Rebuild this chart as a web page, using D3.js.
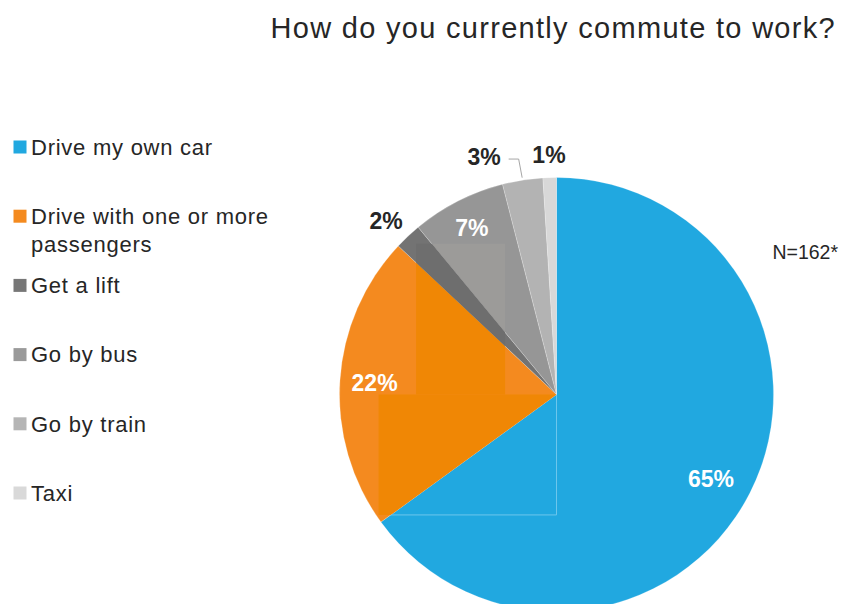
<!DOCTYPE html>
<html>
<head>
<meta charset="utf-8">
<script src="https://cdn.jsdelivr.net/npm/d3@7"></script>
<style>
  html, body { margin: 0; padding: 0; background: #fff; }
  svg { display: block; font-family: "Liberation Sans", Arial, Helvetica, sans-serif; }
</style>
</head>
<body>
<svg id="chart" width="846" height="604"></svg>
<script>
// Survey answers: share of respondents (%) per commute mode
const categories = [
  "Drive my own car",
  "Drive with one or more passengers",
  "Get a lift",
  "Go by bus",
  "Go by train",
  "Taxi"
];
const shares = [65, 22, 2, 7, 3, 1];
const sliceColors  = ["#21A8E0", "#F48A1F", "#737373", "#969696", "#B3B3B3", "#D8D8D8"];
const legendColors = ["#21A8E0", "#F48A1F", "#777777", "#9A9A9A", "#B5B5B5", "#D9D9D9"];
const labelColors  = ["#ffffff", "#ffffff", "#262626", "#ffffff", "#262626", "#262626"];
const titleText = "How do you currently commute to work?";
const sampleNote = "N=162*";

// Label placement: radius as a fraction of the pie radius, small angular nudge (deg)
const labelRadius = [0.81, 0.84, 1.12, 0.86, 1.145, 1.105];
const labelNudge  = [1.5, 0, -1.3, 0, 0, 0];
const labelLeader = [false, false, false, false, true, false];

const svg = d3.select("#chart");
const cx = 556.5, cy = 394.5, R = 217;
const textColor = "#262626";

// Title
svg.append("text")
  .attr("x", 836).attr("y", 37.5)
  .attr("text-anchor", "end")
  .attr("font-size", 29)
  .attr("letter-spacing", 1.3)
  .attr("fill", textColor)
  .text(titleText);

// Sample size
svg.append("text")
  .attr("x", 838).attr("y", 258.5)
  .attr("text-anchor", "end")
  .attr("font-size", 19.5)
  .attr("fill", textColor)
  .text(sampleNote);

// Pie
const data = categories.map((c, i) => ({ name: c, value: shares[i], i }));
const pie = d3.pie().sort(null).value(d => d.value).startAngle(0).endAngle(2 * Math.PI);
const arcs = pie(data);
const arc = d3.arc().innerRadius(0).outerRadius(R);

const g = svg.append("g").attr("transform", `translate(${cx},${cy})`);
const defs = svg.append("defs");

g.selectAll("path.slice")
  .data(arcs)
  .join("path")
  .attr("class", "slice")
  .attr("d", arc)
  .attr("fill", d => sliceColors[d.data.i])
  .attr("stroke", "#ffffff")
  .attr("stroke-opacity", 0.35)
  .attr("stroke-width", 0.6);

// Clip paths per slice, used for the tonal panels laid over the wedges
arcs.forEach(a => {
  defs.append("clipPath").attr("id", "clip-" + a.data.i)
    .append("path").attr("d", arc(a));
});

// Tonal panels (in units of the radius, relative to the centre)
const panels = [
  { slice: 1, x0: -0.82, x1: 0, y0: 0, y1: 0.555, fill: "#F08705" },
  { slice: 1, x0: -0.647, x1: -0.237, y0: -0.695, y1: 0, fill: "#F08705" },
  { slice: 3, x0: -0.647, x1: -0.237, y0: -0.695, y1: 0, fill: "#9C9B99" },
  { slice: 2, x0: -0.647, x1: -0.237, y0: -0.695, y1: 0, fill: "#6E6E6E" }
];
panels.forEach(p => {
  g.append("rect")
    .attr("x", p.x0 * R).attr("y", p.y0 * R)
    .attr("width", (p.x1 - p.x0) * R).attr("height", (p.y1 - p.y0) * R)
    .attr("fill", p.fill)
    .attr("clip-path", `url(#clip-${p.slice})`);
});
// faint frame edges over the blue wedge
g.append("path")
  .attr("d", `M0,0V${0.555 * R}H${-0.82 * R}`)
  .attr("fill", "none")
  .attr("stroke", "#6CC6EC")
  .attr("stroke-width", 1)
  .attr("clip-path", "url(#clip-0)");

// Value labels
const deg = Math.PI / 180;
arcs.forEach(a => {
  const i = a.data.i;
  const mid = (a.startAngle + a.endAngle) / 2 + labelNudge[i] * deg;
  const r = labelRadius[i] * R;
  let x = r * Math.sin(mid), y = -r * Math.cos(mid);
  let anchor = "middle";
  if (labelLeader[i]) {
    const sx = (R + 2.5) * Math.sin(mid), sy = -(R + 2.5) * Math.cos(mid);
    const ey = -1.085 * R;
    const ex = sx - 3.5;
    const hx = ex - 10;
    g.append("path")
      .attr("d", `M${sx},${sy}L${ex},${ey}H${hx}`)
      .attr("fill", "none")
      .attr("stroke", "#A6A6A6")
      .attr("stroke-width", 1);
    x = hx - 8; y = ey - 2; anchor = "end";
  }
  g.append("text")
    .attr("x", x).attr("y", y)
    .attr("dy", "0.358em")
    .attr("text-anchor", anchor)
    .attr("font-size", 23)
    .attr("font-weight", "bold")
    .attr("fill", labelColors[i])
    .text(a.data.value + "%");
});

// Legend
const legend = svg.append("g");
const rowY = d3.scaleLinear().domain([0, 1]).range([147, 216.2]);
categories.forEach((c, i) => {
  const yc = rowY(i);
  legend.append("rect")
    .attr("x", 13.5).attr("y", yc - 6.5)
    .attr("width", 13).attr("height", 13)
    .attr("fill", legendColors[i]);
  const t = legend.append("text")
    .attr("x", 31).attr("y", yc)
    .attr("dy", "0.358em")
    .attr("font-size", 22)
    .attr("letter-spacing", 0.75)
    .attr("fill", textColor);
  // wrap long entries onto a second line
  const words = c.split(" ");
  let line = [];
  let tspan = t.append("tspan").attr("x", 31);
  words.forEach(w => {
    line.push(w);
    tspan.text(line.join(" "));
    if (tspan.node().getComputedTextLength() > 250 && line.length > 1) {
      line.pop();
      tspan.text(line.join(" "));
      line = [w];
      tspan = t.append("tspan").attr("x", 31).attr("dy", "1.27em").text(w);
    }
  });
});
</script>
</body>
</html>
